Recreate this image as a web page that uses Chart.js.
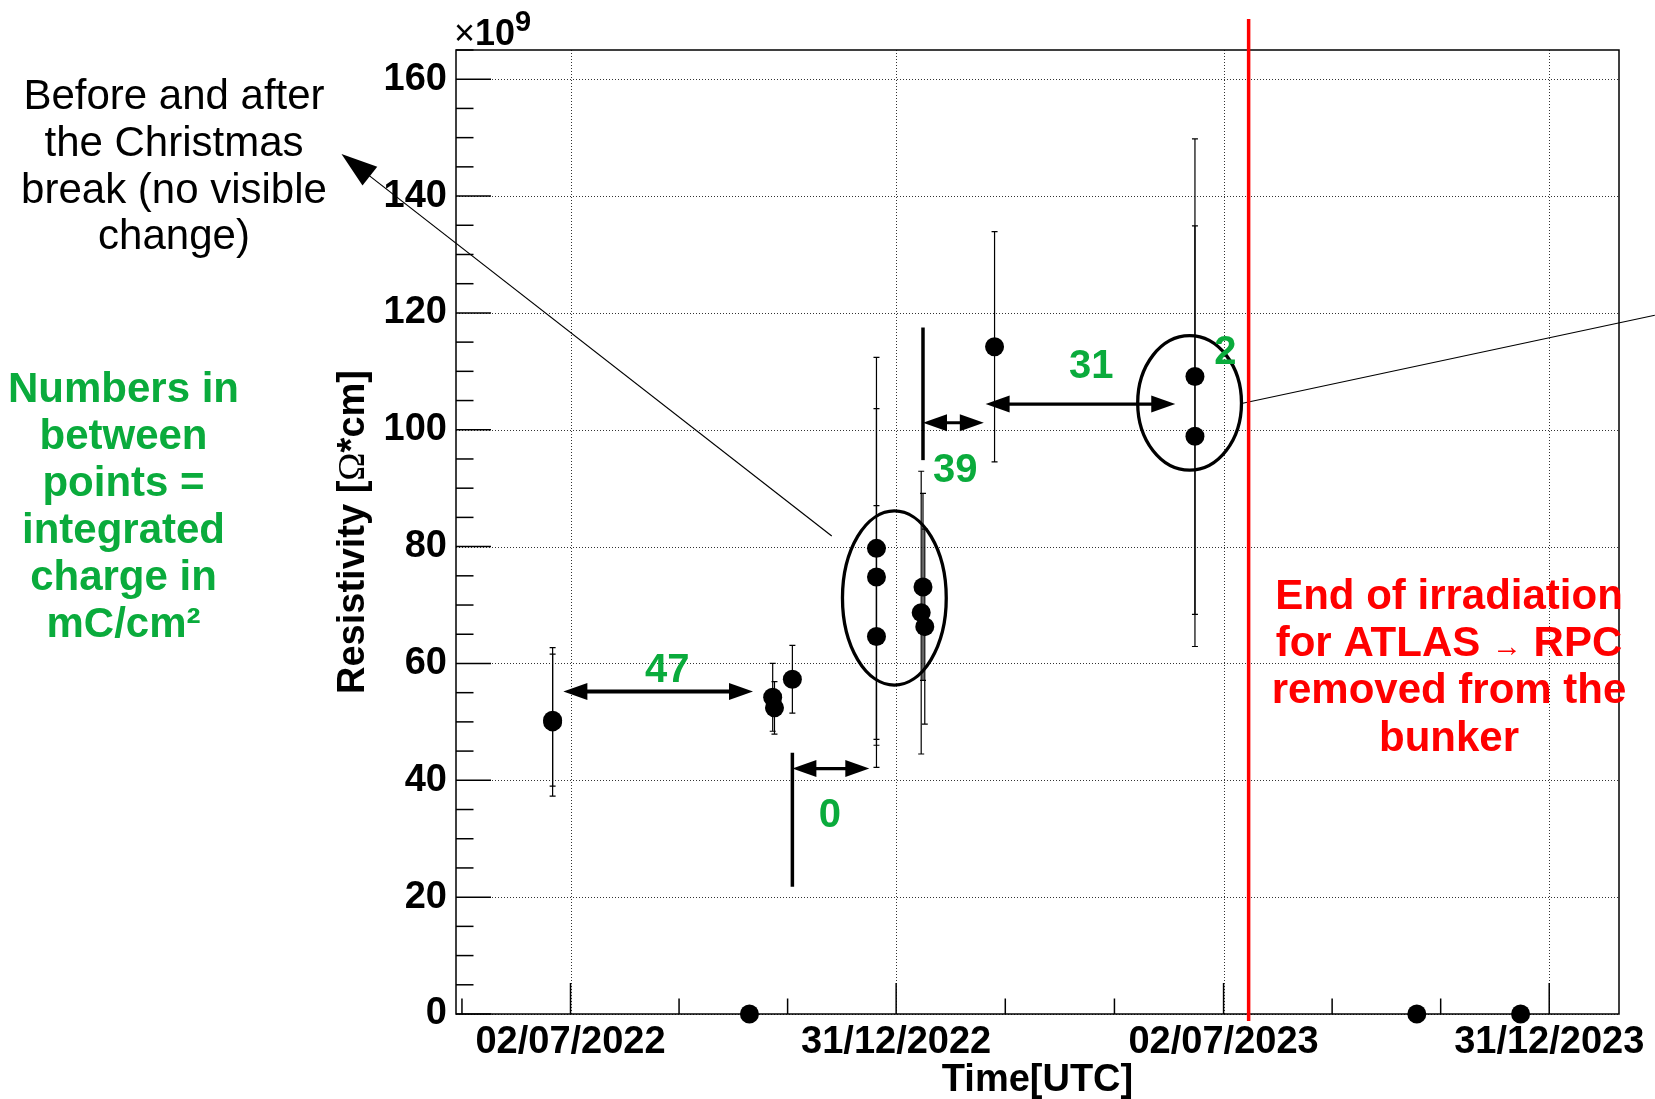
<!DOCTYPE html>
<html>
<head>
<meta charset="utf-8">
<title>Resistivity vs time</title>
<script src="https://cdn.jsdelivr.net/npm/chart.js@4.4.1/dist/chart.umd.min.js"></script>
<style>
    html, body { margin: 0; padding: 0; background: #fff; }
    #wrap { width: 1655px; height: 1099px; }
</style>
</head>
<body>
<div id="wrap"><canvas id="resistivity-chart" width="1655" height="1099"></canvas></div>
<script>
// Measurements: date, resistivity (x1e9 Ohm*cm) and its error
const measDates = ['22/06/2022', '22/06/2022', '10/10/2022', '23/10/2022', '24/10/2022', '03/11/2022',
    '20/12/2022', '20/12/2022', '20/12/2022', '14/01/2023', '15/01/2023', '16/01/2023',
    '24/02/2023', '16/06/2023', '16/06/2023', '18/10/2023', '15/12/2023'];
const resistivity = [50.0, 50.3, 0, 54.2, 52.4, 57.3, 79.7, 74.8, 64.6, 68.7, 73.1, 66.3, 114.2, 109.1, 98.9, 0, 0];
const resistivityErr = [12.7, 11.3, 0, 5.8, 4.5, 5.8, 32.7, 28.8, 22.4, 24.2, 16.0, 16.7, 19.7, 40.7, 36.0, 0, 0];

// Axis ticks
const xTickLabels = ['02/07/2022', '31/12/2022', '02/07/2023', '31/12/2023'];
const yTickLabels = [0, 20, 40, 60, 80, 100, 120, 140, 160];
const xRange = ['29/04/2022', '08/02/2024'];
const yRange = [0, 165];

// Integrated charge between points (mC/cm2)
const chargeLabels = ['47', '0', '39', '31', '2'];
const chargeLabelDates = ['25/08/2022', '24/11/2022', '02/02/2023', '19/04/2023', '03/07/2023'];
const chargeLabelValues = [56.9, 32.0, 91.1, 108.8, 111.3];

// Double arrows and separator bars
const arrowFrom = ['28/06/2022', '03/11/2022', '15/01/2023', '19/02/2023'];
const arrowTo = ['12/10/2022', '16/12/2022', '18/02/2023', '05/06/2023'];
const arrowLevel = [55.2, 42.0, 101.2, 104.4];
const barDates = ['03/11/2022', '15/01/2023'];
const barLow = [21.8, 94.8];
const barHigh = [44.7, 117.5];

// Circled groups
const circleDates = ['30/12/2022', '13/06/2023'];
const circleValues = [71.2, 104.6];
const circleHalfDays = [29, 29];
const circleHalfValues = [14.9, 11.5];

// Pointer lines: [date, value] pairs
const calloutFrom = ['25/11/2022', 81.8];
const calloutTip = ['24/02/2022', 147.2];
const leaderFrom = ['12/07/2023', 104.5];
const leaderTo = ['28/02/2024', 119.6];

const irradiationEnd = '16/07/2023';

// Text notes
const christmasNote = ['Before and after', 'the Christmas', 'break (no visible', 'change)'];
const chargeNote = ['Numbers in', 'between', 'points =', 'integrated', 'charge in', 'mC/cm\u00B2'];
const endNote = ['End of irradiation', 'for ATLAS \u2192 RPC', 'removed from the', 'bunker'];

const SANS = '"Liberation Sans", Arial, Helvetica, sans-serif';
const GREEN = '#0aab3c';
const RED = '#ff0000';
const DAY_MS = 86400000;

function toDay(s) {
    const [d, m, y] = s.split('/').map(Number);
    return Date.UTC(y, m - 1, d) / DAY_MS;
}

const majorXDays = xTickLabels.map(toDay);

// Major dates with three subdivisions, plus one minor tick before the first date
function buildXTicks() {
    const ticks = [];
    const first = (majorXDays[1] - majorXDays[0]) / 3;
    ticks.push({ value: majorXDays[0] - first });
    majorXDays.forEach((d, i) => {
        ticks.push({ value: d, major: true });
        if (i < majorXDays.length - 1) {
            const s = (majorXDays[i + 1] - d) / 3;
            ticks.push({ value: d + s }, { value: d + 2 * s });
        }
    });
    return ticks;
}

function buildYTicks() {
    const ticks = [];
    for (let v = yRange[0]; v <= yRange[1]; v += 5) {
        ticks.push({ value: v, major: yTickLabels.includes(v) });
    }
    return ticks;
}

function drawRuns(ctx, runs, cx, baseline, align = 'center') {
    let total = 0;
    runs.forEach(r => { ctx.font = r.font; total += ctx.measureText(r.text).width; });
    let x = align === 'center' ? cx - total / 2 : cx;
    ctx.textAlign = 'left';
    ctx.textBaseline = 'alphabetic';
    runs.forEach(r => {
        ctx.font = r.font;
        ctx.fillText(r.text, x, baseline + (r.dy || 0));
        x += ctx.measureText(r.text).width;
    });
}

function drawHead(ctx, tipX, tipY, dirX, dirY, len, half) {
    const n = Math.hypot(dirX, dirY);
    const ux = dirX / n, uy = dirY / n;
    const bx = tipX - ux * len, by = tipY - uy * len;
    ctx.beginPath();
    ctx.moveTo(tipX, tipY);
    ctx.lineTo(bx - uy * half, by + ux * half);
    ctx.lineTo(bx + uy * half, by - ux * half);
    ctx.closePath();
    ctx.fill();
}

const overlay = {
    id: 'overlay',
    beforeDatasetsDraw(chart) {
        const { ctx, chartArea: a, scales: { x, y } } = chart;
        ctx.save();

        // Dotted grid at labelled ticks
        ctx.strokeStyle = '#333';
        ctx.lineWidth = 1;
        ctx.setLineDash([1, 2]);
        majorXDays.forEach(d => {
            const p = Math.round(x.getPixelForValue(d)) + 0.5;
            ctx.beginPath(); ctx.moveTo(p, a.top); ctx.lineTo(p, a.bottom); ctx.stroke();
        });
        yTickLabels.forEach(v => {
            const p = Math.round(y.getPixelForValue(v)) + 0.5;
            ctx.beginPath(); ctx.moveTo(a.left, p); ctx.lineTo(a.right, p); ctx.stroke();
        });
        ctx.setLineDash([]);

        // Error bars
        ctx.strokeStyle = '#000';
        ctx.lineWidth = 1.2;
        measDates.forEach((d, i) => {
            const e = resistivityErr[i];
            if (!e) return;
            const px = x.getPixelForValue(toDay(d));
            const top = y.getPixelForValue(resistivity[i] + e);
            const bot = y.getPixelForValue(resistivity[i] - e);
            ctx.beginPath();
            ctx.moveTo(px, top); ctx.lineTo(px, bot);
            ctx.moveTo(px - 3, top); ctx.lineTo(px + 3, top);
            ctx.moveTo(px - 3, bot); ctx.lineTo(px + 3, bot);
            ctx.stroke();
        });
        ctx.restore();
    },
    afterDatasetsDraw(chart) {
        const { ctx, chartArea: a, scales: { x, y } } = chart;
        ctx.save();

        // Frame and inward ticks
        ctx.strokeStyle = '#000';
        ctx.lineWidth = 1.5;
        ctx.strokeRect(a.left, a.top, a.right - a.left, a.bottom - a.top);
        buildXTicks().forEach(t => {
            const p = x.getPixelForValue(t.value);
            if (p < a.left || p > a.right) return;
            ctx.beginPath(); ctx.moveTo(p, a.bottom); ctx.lineTo(p, a.bottom - (t.major ? 31 : 15.5)); ctx.stroke();
        });
        buildYTicks().forEach(t => {
            const p = y.getPixelForValue(t.value);
            ctx.beginPath(); ctx.moveTo(a.left, p); ctx.lineTo(a.left + (t.major ? 35 : 17.5), p); ctx.stroke();
        });

        // Exponent above the y axis
        ctx.fillStyle = '#000';
        drawRuns(ctx, [
            { text: '\u00D7', font: `36px ${SANS}` },
            { text: '10', font: `bold 36px ${SANS}` },
            { text: '9', font: `bold 29px ${SANS}`, dy: -14 }
        ], a.left - 2, 45, 'left');

        // Axis titles
        ctx.save();
        ctx.translate(364, (a.top + a.bottom) / 2);
        ctx.rotate(-Math.PI / 2);
        drawRuns(ctx, [
            { text: 'Resistivity [', font: `bold 38px ${SANS}` },
            { text: '\u03A9', font: '38px "Liberation Serif", "Times New Roman", serif' },
            { text: '*cm]', font: `bold 38px ${SANS}` }
        ], 0, 0);
        ctx.restore();
        drawRuns(ctx, [{ text: 'Time[UTC]', font: `bold 38px ${SANS}` }], (a.left + a.right) / 2, 1091);

        // Circled groups
        ctx.lineWidth = 3.3;
        circleDates.forEach((d, i) => {
            const cx = x.getPixelForValue(toDay(d));
            const cy = y.getPixelForValue(circleValues[i]);
            const rx = x.getPixelForValue(toDay(d) + circleHalfDays[i]) - cx;
            const ry = cy - y.getPixelForValue(circleValues[i] + circleHalfValues[i]);
            ctx.beginPath();
            ctx.ellipse(cx, cy, rx, ry, 0, 0, Math.PI * 2);
            ctx.stroke();
        });

        // Separator bars
        ctx.lineWidth = 3.5;
        barDates.forEach((d, i) => {
            const px = x.getPixelForValue(toDay(d));
            ctx.beginPath();
            ctx.moveTo(px, y.getPixelForValue(barLow[i]));
            ctx.lineTo(px, y.getPixelForValue(barHigh[i]));
            ctx.stroke();
        });

        // Double arrows
        ctx.fillStyle = '#000';
        arrowFrom.forEach((d, i) => {
            const x1 = x.getPixelForValue(toDay(d));
            const x2 = x.getPixelForValue(toDay(arrowTo[i]));
            const py = y.getPixelForValue(arrowLevel[i]);
            ctx.lineWidth = i === 0 ? 4 : 3.2;
            ctx.beginPath(); ctx.moveTo(x1 + 12, py); ctx.lineTo(x2 - 12, py); ctx.stroke();
            drawHead(ctx, x1, py, -1, 0, 24, 8.5);
            drawHead(ctx, x2, py, 1, 0, 24, 8.5);
        });

        // Pointer to the Christmas note
        const fx = x.getPixelForValue(toDay(calloutFrom[0])), fy = y.getPixelForValue(calloutFrom[1]);
        const tx = x.getPixelForValue(toDay(calloutTip[0])), ty = y.getPixelForValue(calloutTip[1]);
        ctx.lineWidth = 1.2;
        ctx.beginPath(); ctx.moveTo(fx, fy); ctx.lineTo(tx + (fx - tx) * 0.05, ty + (fy - ty) * 0.05); ctx.stroke();
        drawHead(ctx, tx, ty, tx - fx, ty - fy, 36, 12);

        // Leader line out of the second group
        ctx.beginPath();
        ctx.moveTo(x.getPixelForValue(toDay(leaderFrom[0])), y.getPixelForValue(leaderFrom[1]));
        ctx.lineTo(x.getPixelForValue(toDay(leaderTo[0])), y.getPixelForValue(leaderTo[1]));
        ctx.stroke();

        // End of irradiation
        const rx = x.getPixelForValue(toDay(irradiationEnd));
        ctx.strokeStyle = RED;
        ctx.lineWidth = 3.5;
        ctx.beginPath(); ctx.moveTo(rx, 19); ctx.lineTo(rx, a.bottom + 7); ctx.stroke();

        // Charge numbers
        ctx.fillStyle = GREEN;
        ctx.font = `bold 40px ${SANS}`;
        ctx.textAlign = 'center';
        ctx.textBaseline = 'alphabetic';
        chargeLabels.forEach((t, i) => {
            ctx.fillText(t, x.getPixelForValue(toDay(chargeLabelDates[i])), y.getPixelForValue(chargeLabelValues[i]));
        });

        // Notes
        ctx.fillStyle = '#000';
        christmasNote.forEach((t, i) => drawRuns(ctx, [{ text: t, font: `42px ${SANS}` }], 174, 109 + i * 46.8));
        ctx.fillStyle = GREEN;
        chargeNote.forEach((t, i) => drawRuns(ctx, [{ text: t, font: `bold 42px ${SANS}` }], 123.5, 402 + i * 46.9));
        ctx.fillStyle = RED;
        endNote.forEach((t, i) => {
            const runs = t.includes('\u2192')
                ? [{ text: 'for ATLAS ', font: `bold 42px ${SANS}` },
                   { text: '\u2192', font: `30px ${SANS}` },
                   { text: ' RPC', font: `bold 42px ${SANS}` }]
                : [{ text: t, font: `bold 42px ${SANS}` }];
            drawRuns(ctx, runs, 1449, 609 + i * 47.2);
        });

        ctx.restore();
    }
};

const tickFont = { family: SANS, size: 38, weight: 'bold' };
const points = measDates.map((d, i) => ({ x: toDay(d), y: resistivity[i] }));

new Chart(document.getElementById('resistivity-chart').getContext('2d'), {
    type: 'scatter',
    data: {
        datasets: [{
            data: points,
            backgroundColor: '#000',
            borderWidth: 0,
            pointRadius: 9.5,
            pointHoverRadius: 9.5,
            clip: false
        }]
    },
    options: {
        responsive: false,
        animation: false,
        devicePixelRatio: 1,
        events: [],
        layout: { padding: { left: 0, right: 36, top: 50, bottom: 0 } },
        plugins: { legend: { display: false }, tooltip: { enabled: false } },
        scales: {
            x: {
                type: 'linear',
                min: toDay(xRange[0]),
                max: toDay(xRange[1]),
                afterBuildTicks: axis => { axis.ticks = buildXTicks(); },
                afterFit: axis => { axis.height = 85; },
                grid: { display: false, drawTicks: false },
                border: { display: false },
                ticks: {
                    autoSkip: false,
                    maxRotation: 0,
                    minRotation: 0,
                    padding: 6,
                    color: '#000',
                    font: tickFont,
                    callback: v => {
                        const i = majorXDays.indexOf(v);
                        return i >= 0 ? xTickLabels[i] : '';
                    }
                }
            },
            y: {
                min: yRange[0],
                max: yRange[1],
                afterBuildTicks: axis => { axis.ticks = buildYTicks(); },
                afterFit: axis => { axis.width = 456; },
                grid: { display: false, drawTicks: false },
                border: { display: false },
                ticks: {
                    autoSkip: false,
                    padding: 9,
                    color: '#000',
                    font: tickFont,
                    callback: v => yTickLabels.includes(v) ? String(v) : ''
                }
            }
        }
    },
    plugins: [overlay]
});
</script>
</body>
</html>
